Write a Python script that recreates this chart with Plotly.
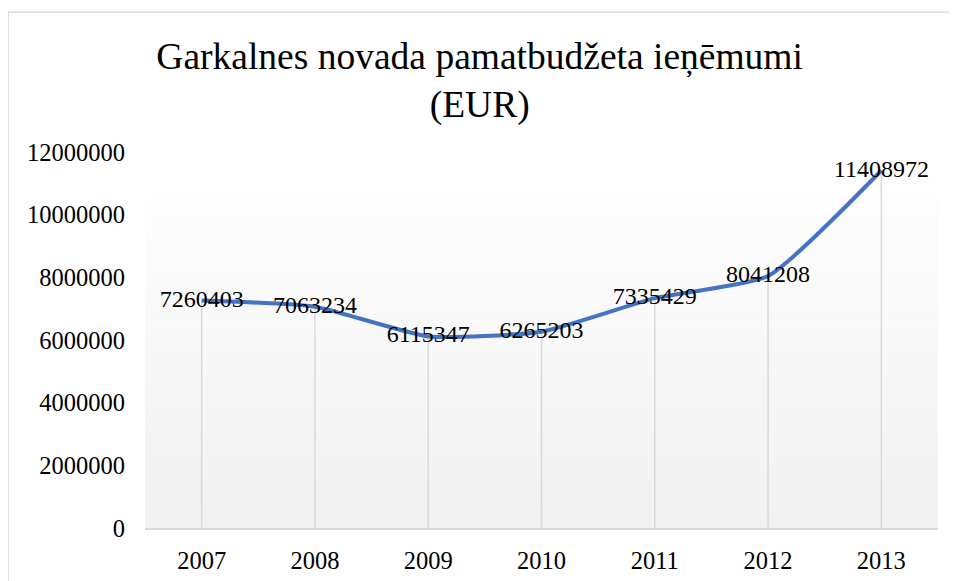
import plotly.graph_objects as go

# data
years = ["2007", "2008", "2009", "2010", "2011", "2012", "2013"]
revenue = [7260403, 7063234, 6115347, 6265203, 7335429, 8041208, 11408972]
y_ticks = [0, 2000000, 4000000, 6000000, 8000000, 10000000, 12000000]

title_text = "Garkalnes novada pamatbudžeta ieņēmumi<br>(EUR)"

FONT = "Liberation Serif"
LINE_BLUE = "#4472C4"
GRID = "#d9d9d9"

fig = go.Figure()

# drop lines from each point down to the axis
drop_x, drop_y = [], []
for yr, v in zip(years, revenue):
    drop_x += [yr, yr, None]
    drop_y += [v, 0, None]

fig.add_trace(
    go.Scatter(
        x=drop_x,
        y=drop_y,
        mode="lines",
        line=dict(color=GRID, width=1.5),
        hoverinfo="skip",
        showlegend=False,
    )
)

fig.add_trace(
    go.Scatter(
        x=years,
        y=revenue,
        mode="lines+text",
        text=[str(v) for v in revenue],
        textposition="middle center",
        textfont=dict(family=FONT, size=24, color="#000000"),
        line=dict(color=LINE_BLUE, width=4, shape="spline", smoothing=0.5),
        cliponaxis=False,
        showlegend=False,
    )
)

# plot area gradient (white at top, light gray at bottom)
shapes = []
n = 40
for i in range(n):
    t = i / (n - 1)
    c = int(round(255 - (255 - 241) * t))
    shapes.append(
        dict(
            type="rect",
            xref="x domain",
            yref="y domain",
            x0=0,
            x1=1,
            y0=1 - (i + 1) / n,
            y1=1 - i / n,
            fillcolor=f"rgb({c},{c},{c})",
            line=dict(width=0),
            layer="below",
        )
    )

# chart border (only left and top edges are visible in the frame)
shapes.append(
    dict(
        type="line", xref="paper", yref="paper",
        x0=-0.1728, x1=-0.1728, y0=1.372, y1=-0.3,
        line=dict(color=GRID, width=1.5),
    )
)
shapes.append(
    dict(
        type="line", xref="paper", yref="paper",
        x0=-0.1728, x1=1.1, y0=1.372, y1=1.372,
        line=dict(color=GRID, width=1.5),
    )
)

fig.update_layout(
    width=949,
    height=573,
    margin=dict(l=137, r=19, t=144, b=53),
    paper_bgcolor="white",
    plot_bgcolor="white",
    font=dict(family=FONT, size=24, color="#000000"),
    title=dict(
        text=title_text,
        x=0.497,
        xref="container",
        xanchor="center",
        y=0.894,
        yanchor="top",
        font=dict(family=FONT, size=37.5, color="#000000"),
    ),
    xaxis=dict(
        type="category",
        range=[-0.5, 6.5],
        automargin=False,
        showgrid=False,
        showline=True,
        linecolor=GRID,
        linewidth=1.5,
        ticks="",
        ticklabelstandoff=10,
        tickfont=dict(family=FONT, size=24.5),
        zeroline=False,
    ),
    yaxis=dict(
        range=[0, 12000000],
        automargin=False,
        tickvals=y_ticks,
        ticktext=[str(v) for v in y_ticks],
        showgrid=False,
        showline=False,
        zeroline=False,
        ticks="",
        ticklabelstandoff=19,
        tickfont=dict(family=FONT, size=24.5),
    ),
    shapes=shapes,
)

fig.write_html("out.html")
